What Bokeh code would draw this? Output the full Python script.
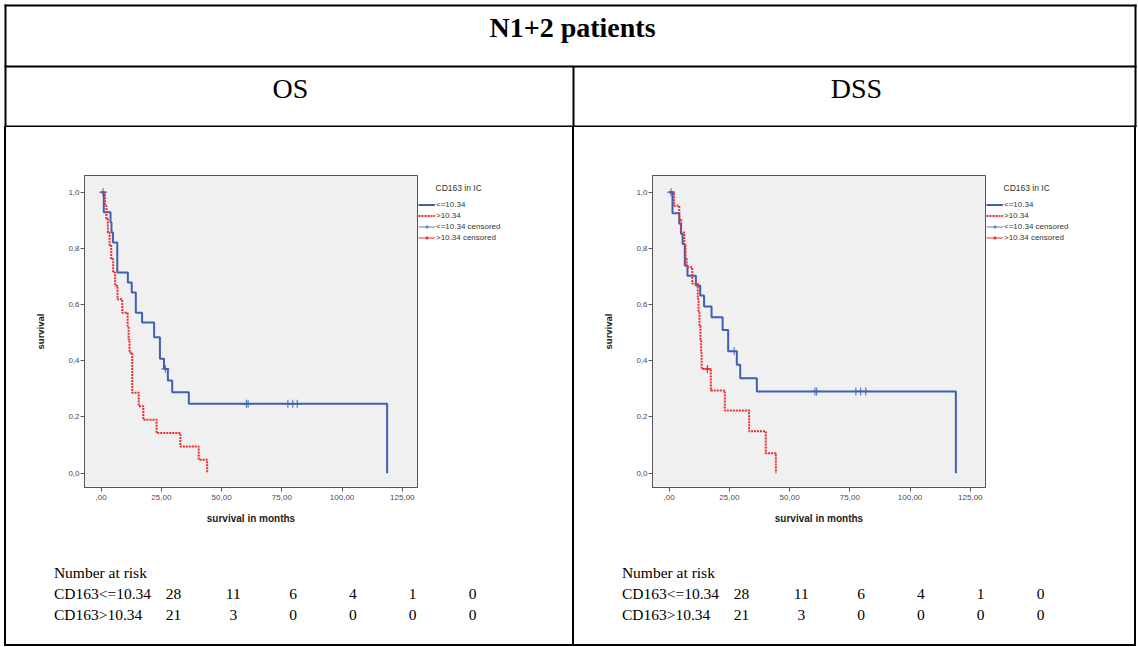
from bokeh.plotting import figure
from bokeh.models import Range1d, FixedTicker, Legend, LegendItem, Spacer, Label
from bokeh.layouts import row, column
from bokeh.core.properties import value
from bokeh.embed import file_html
from bokeh.resources import INLINE

# ---------------- data ----------------
title_text = "N1+2 patients"
panel_titles = ["OS", "DSS"]
x_label = "survival in months"
y_label = "survival"
x_ticks = [0, 25, 50, 75, 100, 125]
x_tick_labels = [",00", "25,00", "50,00", "75,00", "100,00", "125,00"]
y_ticks = [0, 0.2, 0.4, 0.6, 0.8, 1]
y_tick_labels = ["0,0", "0,2", "0,4", "0,6", "0,8", "1,0"]
legend_title = "CD163 in IC"
legend_labels = ["<=10.34", ">10.34", "<=10.34 censored", ">10.34 censored"]

# OS curves (time in months, survival after step)
os_low_t = [0, 1.1, 3.9, 4.3, 4.9, 6.7, 11.1, 12.7, 14.4, 17.0, 22.0, 24.4, 26.1, 27.7, 29.5, 36.4, 118.7]
os_low_s = [1.0, 0.929, 0.893, 0.857, 0.821, 0.714, 0.679, 0.643, 0.571, 0.536, 0.484, 0.407, 0.371, 0.330, 0.288, 0.247, 0.0]
os_high_t = [0, 1.6, 2.2, 2.8, 3.5, 4.2, 5.0, 5.8, 6.8, 8.8, 11.0, 11.4, 11.8, 12.9, 15.6, 17.5, 23.0, 32.9, 40.5, 44.0]
os_high_s = [1.0, 0.952, 0.905, 0.857, 0.810, 0.762, 0.714, 0.667, 0.619, 0.571, 0.524, 0.476, 0.429, 0.286, 0.238, 0.190, 0.143, 0.095, 0.048, 0.0]
os_low_cens_t = [0.8, 26.7, 60.3, 61.0, 77.5, 79.5, 81.4]
os_low_cens_s = [1.0, 0.371, 0.247, 0.247, 0.247, 0.247, 0.247]
os_high_cens_t = []
os_high_cens_s = []

# DSS curves
dss_low_t = [0, 1.4, 4.2, 4.9, 5.6, 6.5, 7.6, 11.1, 12.9, 14.5, 17.6, 22.2, 24.5, 28.1, 29.5, 36.4, 119.0]
dss_low_s = [1.0, 0.925, 0.888, 0.852, 0.816, 0.739, 0.703, 0.668, 0.632, 0.593, 0.555, 0.510, 0.434, 0.386, 0.338, 0.291, 0.0]
dss_high_t = [0, 2.0, 4.2, 5.0, 6.3, 6.8, 7.3, 9.6, 11.9, 12.2, 12.6, 13.0, 13.3, 13.5, 17.3, 23.1, 33.2, 40.1, 44.3]
dss_high_s = [1.0, 0.952, 0.905, 0.857, 0.810, 0.762, 0.733, 0.675, 0.620, 0.571, 0.524, 0.476, 0.429, 0.371, 0.294, 0.223, 0.149, 0.071, 0.0]
dss_low_cens_t = [0.8, 27.0, 60.5, 61.2, 77.5, 79.5, 81.6]
dss_low_cens_s = [1.0, 0.434, 0.291, 0.291, 0.291, 0.291, 0.291]
dss_high_cens_t = [15.9]
dss_high_cens_s = [0.371]

risk_header = "Number at risk"
risk_groups = ["CD163<=10.34", "CD163>10.34"]
os_risk_low = [28, 11, 6, 4, 1, 0]
os_risk_high = [21, 3, 0, 0, 0, 0]
dss_risk_low = [28, 11, 6, 4, 1, 0]
dss_risk_high = [21, 3, 0, 0, 0, 0]

# ---------------- styles ----------------
BLUE = "#3f5fb5"
RED = "#ef2b2b"
SERIF = value("Liberation Serif")
SANS = "Liberation Sans"
GREY = "#4a4a4a"
FRAME_W, FRAME_H = 333, 312
KM_H = 418
TOP_B, BOT_B = 48, KM_H - 48 - 312
LINE_LOW = dict(line_color=BLUE, line_width=2)
LINE_HIGH = dict(line_color=RED, line_width=2, line_dash="2 1")
CENS_LOW = dict(marker="cross", size=8, line_color=BLUE, line_width=1.2, line_alpha=0.8)
CENS_HIGH = dict(marker="cross", size=8, line_color=RED, line_width=1.2)


def km_fig(low_t, low_s, high_t, high_s, lc_t, lc_s, hc_t, hc_s):
    p = figure(frame_width=FRAME_W, frame_height=FRAME_H, output_backend="svg", toolbar_location=None,
               x_range=Range1d(-6.9, 131.3), y_range=Range1d(-0.0509, 1.0594),
               min_border_left=78, min_border_right=1,
               min_border_top=TOP_B, min_border_bottom=BOT_B)
    p.background_fill_color = "#f0f0f0"
    p.border_fill_color = "white"
    p.outline_line_color = "#555555"
    p.outline_line_width = 1
    p.grid.visible = False

    for ax in (p.xaxis, p.yaxis):
        ax.axis_line_color = "#555555"
        ax.major_tick_line_color = "#555555"
        ax.major_tick_out = 4
        ax.major_tick_in = 0
        ax.minor_tick_line_color = None
        ax.major_label_text_font = SANS
        ax.major_label_text_font_size = "8px"
        ax.major_label_text_color = GREY
        ax.axis_label_text_font = SANS
        ax.axis_label_text_font_style = "bold"
        ax.axis_label_text_color = "#222222"
    p.xaxis.ticker = FixedTicker(ticks=x_ticks)
    p.xaxis.major_label_overrides = dict(zip(x_ticks, x_tick_labels))
    p.yaxis.ticker = FixedTicker(ticks=y_ticks)
    p.yaxis.major_label_overrides = dict(zip(y_ticks, y_tick_labels))
    p.xaxis.axis_label = x_label
    p.yaxis.axis_label = y_label
    p.xaxis.axis_label_text_font_size = "10px"
    p.yaxis.axis_label_text_font_size = "9.5px"
    p.xaxis.major_label_standoff = 3
    p.yaxis.major_label_standoff = 1
    p.xaxis.axis_label_standoff = 10
    p.yaxis.axis_label_standoff = 19

    p.step(low_t, low_s, mode="after", **LINE_LOW)
    p.step(high_t, high_s, mode="after", **LINE_HIGH)
    p.scatter(lc_t, lc_s, **CENS_LOW)
    p.scatter(hc_t, hc_s, **CENS_HIGH)
    return p


def legend_fig(width, low_t, low_s, high_t, high_s, lc_t, lc_s, hc_t, hc_s):
    """Legend panel to the right of a survival plot; its frame lines up with the plot frame.
    The series are drawn again here (outside this panel's visible range) so that the
    legend swatches have real renderers."""
    p = figure(width=width, height=KM_H, output_backend="svg", toolbar_location=None,
               x_range=Range1d(1000, 1100), y_range=Range1d(-0.0509, 1.0594),
               x_axis_type=None, y_axis_type=None,
               min_border_left=0, min_border_right=0, min_border_top=TOP_B, min_border_bottom=BOT_B)
    p.outline_line_color = None
    p.background_fill_color = "white"
    p.border_fill_color = "white"
    hc_tt = hc_t if hc_t else [None]
    hc_ss = hc_s if hc_s else [None]
    r1 = p.step(low_t, low_s, mode="after", **LINE_LOW)
    r2 = p.step(high_t, high_s, mode="after", **LINE_HIGH)
    r3 = p.scatter(lc_t, lc_s, **CENS_LOW)
    r3l = p.line(lc_t, lc_s, line_color=BLUE, line_width=1, line_alpha=0.8)
    r4 = p.scatter(hc_tt, hc_ss, **CENS_HIGH)
    r4l = p.line(hc_tt, hc_ss, line_color=RED, line_width=1)
    groups = [[r1], [r2], [r3l, r3], [r4l, r4]]
    legend = Legend(items=[LegendItem(label=lab, renderers=rs, index=0)
                           for lab, rs in zip(legend_labels, groups)],
                    location=(0, 245))
    legend.border_line_color = None
    legend.background_fill_alpha = 0
    legend.label_text_font = SANS
    legend.label_text_font_size = "8px"
    legend.label_text_color = "#333333"
    legend.label_height = 9
    legend.glyph_height = 9
    legend.glyph_width = 17
    legend.spacing = 2
    legend.padding = 0
    legend.margin = 0
    legend.label_standoff = 1
    p.add_layout(legend, "center")
    p.add_layout(Label(x=17, y=FRAME_H - 12, x_units="screen", y_units="screen",
                       text=legend_title, text_font=SANS, text_font_size="8.5px",
                       text_color="#333333", text_baseline="middle", text_align="left"))
    return p


ROW_TOP = 545      # page y where the risk table row starts
ROW_BOTTOM = 644   # page y where it ends


def risk_fig(width, col0_px, page_left, low, high):
    spacing = 59.8
    x0 = (page_left - col0_px) / spacing
    x1 = (page_left + width - col0_px) / spacing
    p = figure(width=width, height=ROW_BOTTOM - ROW_TOP, output_backend="svg", toolbar_location=None,
               x_range=Range1d(x0, x1),
               y_range=Range1d((ROW_BOTTOM - 572) / 21, (ROW_TOP - 572) / 21),
               x_axis_type=None, y_axis_type=None, min_border=0)
    p.outline_line_color = None
    p.background_fill_color = "white"
    idx = list(range(len(low)))
    kw = dict(text_font=SERIF, text_font_size="15.5px", text_baseline="middle", text_color="black")
    p.text(x=[-2, -2, -2], y=[0, 1, 2], text=[risk_header] + risk_groups, text_align="left", **kw)
    p.text(x=idx, y=[1] * len(low), text=[str(v) for v in low], text_align="center", **kw)
    p.text(x=idx, y=[2] * len(high), text=[str(v) for v in high], text_align="center", **kw)
    return p


# header (page coordinates 0..1138 x 0..127)
h = figure(width=1138, height=127, output_backend="svg", toolbar_location=None,
           x_range=Range1d(0, 1138), y_range=Range1d(127, 0),
           x_axis_type=None, y_axis_type=None, min_border=0)
h.outline_line_color = None
h.segment(x0=[4, 4, 4, 5, 1135, 573], y0=[5, 66, 126, 4, 4, 66],
          x1=[1136, 1136, 1136, 5, 1135, 573], y1=[5, 66, 126, 127, 127, 127],
          line_color="black", line_width=2)
h.text(x=[572], y=[27], text=[title_text], text_font=SERIF, text_font_size="28px",
       text_font_style="bold", text_align="center", text_baseline="middle")
h.text(x=[290, 856], y=[88, 88], text=panel_titles, text_font=SERIF, text_font_size="28px",
       text_align="center", text_baseline="middle")

os_args = (os_low_t, os_low_s, os_high_t, os_high_s,
           os_low_cens_t, os_low_cens_s, os_high_cens_t, os_high_cens_s)
dss_args = (dss_low_t, dss_low_s, dss_high_t, dss_high_s,
            dss_low_cens_t, dss_low_cens_s, dss_high_cens_t, dss_high_cens_s)
os_km = km_fig(*os_args)
dss_km = km_fig(*dss_args)
KM_W = 78 + FRAME_W + 1
os_leg = legend_fig(566 - KM_W, *os_args)
dss_leg = legend_fig(560 - KM_W, *dss_args)
os_risk = risk_fig(566, 173, 6, os_risk_low, os_risk_high)
dss_risk = risk_fig(560, 741, 574, dss_risk_low, dss_risk_high)


def bar(w, hgt, color="black"):
    return Spacer(width=w, height=hgt, styles={"background-color": color})


km_row = row(bar(4, KM_H, "white"), bar(2, KM_H), os_km, os_leg, bar(2, KM_H),
             dss_km, dss_leg, bar(2, KM_H), bar(2, KM_H, "white"))
risk_row = row(bar(4, 99, "white"), bar(2, 99), os_risk, bar(2, 99), dss_risk, bar(2, 99), bar(2, 99, "white"))
bottom_row = row(bar(4, 2, "white"), bar(1132, 2))
layout = column(h, km_row, risk_row, bottom_row)

open("out.html", "w").write(file_html(layout, INLINE))
